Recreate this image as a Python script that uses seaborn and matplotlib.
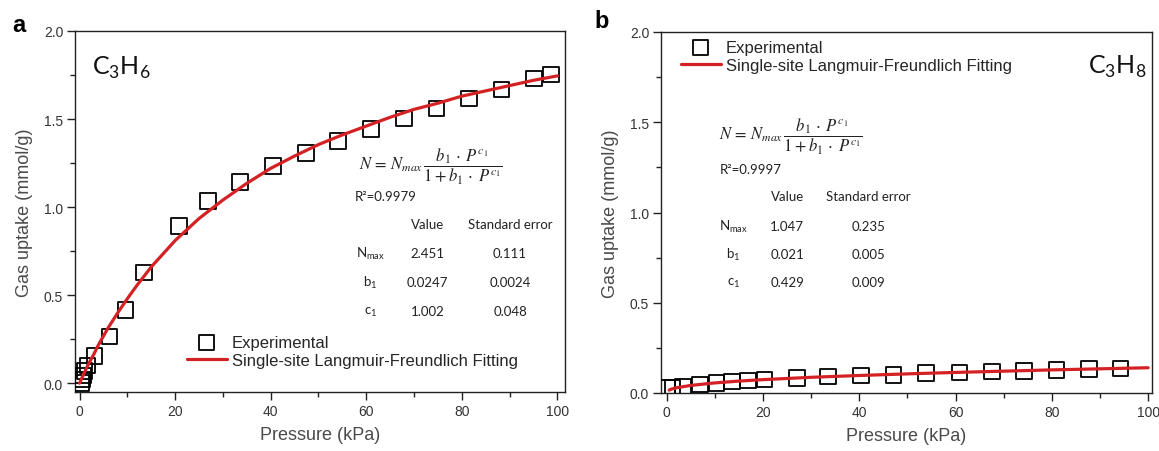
import matplotlib
matplotlib.use("Agg")
import matplotlib.pyplot as plt
import seaborn as sns
import numpy as np

# ---------------- data ----------------
# Panel a: C3H6
p_exp_a = [0.3, 0.5, 0.7, 1.0, 1.7, 3.1, 6.3, 9.6, 13.5, 20.8, 26.9, 33.6, 40.5,
           47.4, 54.1, 61.0, 67.9, 74.7, 81.5, 88.3, 95.1, 98.7]
n_exp_a = [0.0, 0.02, 0.045, 0.07, 0.10, 0.155, 0.265, 0.416, 0.628, 0.893, 1.035,
           1.143, 1.234, 1.306, 1.376, 1.442, 1.502, 1.559, 1.616, 1.669, 1.73, 1.754]
p_fit_a = [0, 1, 2, 3, 4, 6, 8, 10, 12, 15, 20, 25, 30, 35, 40, 45, 50, 55, 60,
           65, 70, 75, 80, 85, 90, 95, 100]
n_fit_a = [0.0, 0.06, 0.115, 0.165, 0.22, 0.315, 0.40, 0.48, 0.555, 0.66, 0.81,
           0.935, 1.04, 1.135, 1.22, 1.29, 1.355, 1.41, 1.46, 1.51, 1.555, 1.59,
           1.63, 1.66, 1.69, 1.72, 1.745]

# Panel b: C3H8
p_exp_b = [0.0, 1.2, 3.4, 6.9, 10.3, 13.6, 16.9, 20.3, 27.1, 33.5, 40.3, 47.1,
           53.9, 60.8, 67.6, 74.2, 81.0, 87.7, 94.3]
n_exp_b = [0.03, 0.03, 0.036, 0.046, 0.055, 0.064, 0.070, 0.074, 0.083, 0.092,
           0.097, 0.101, 0.111, 0.114, 0.12, 0.123, 0.127, 0.133, 0.136]
p_fit_b = [0.5, 1, 2, 5, 10, 15, 20, 30, 40, 50, 60, 70, 80, 90, 100]
n_fit_b = [0.016, 0.022, 0.029, 0.042, 0.056, 0.066, 0.074, 0.087, 0.097, 0.106,
           0.114, 0.121, 0.128, 0.134, 0.14]

# Fit parameter tables
params_a = {"R2": "0.9979", "values": ["2.451", "0.0247", "1.002"],
            "errors": ["0.111", "0.0024", "0.048"]}
params_b = {"R2": "0.9997", "values": ["1.047", "0.021", "0.429"],
            "errors": ["0.235", "0.005", "0.009"]}
param_names = [r"N$_\mathregular{max}$", r"b$_\mathregular{1}$", r"c$_\mathregular{1}$"]

x_ticks = [0, 20, 40, 60, 80, 100]
y_ticks = [0.0, 0.5, 1.0, 1.5, 2.0]

# ---------------- style ----------------
sns.set_style("ticks")
plt.rcParams["font.family"] = ["Liberation Sans", "DejaVu Sans"]
plt.rcParams["mathtext.default"] = "it"

RED = "#d42124"
TICK_COL = "#333333"
LAB_COL = "#4a4a4a"

W, H = 1159, 452
fig = plt.figure(figsize=(W / 100, H / 100), dpi=100)

ax_a = fig.add_axes([75 / W, 1 - 393 / H, 490 / W, 361 / H])
ax_b = fig.add_axes([661 / W, 1 - 394 / H, 491 / W, 361 / H])

eq = r"$N\, =\, N_{max}\,\dfrac{b_1\,\cdot\;P^{c_1}}{1 + b_1\,\cdot\;P^{c_1}}$"


def draw(ax, pe, ne, pf, nf, ylim, xlim):
    sns.scatterplot(x=pe, y=ne, ax=ax, marker="s", s=125, facecolor="none",
                    edgecolor="black", linewidth=1.3, label="Experimental", zorder=3)
    sns.lineplot(x=pf, y=nf, ax=ax, color=RED, linewidth=2.3,
                 label="Single-site Langmuir-Freundlich Fitting", zorder=4)
    ax.set_xlim(*xlim)
    ax.set_ylim(*ylim)
    ax.set_xticks(x_ticks)
    ax.set_xticks([10, 30, 50, 70, 90], minor=True)
    ax.set_yticks(y_ticks)
    ax.set_yticks([0.25, 0.75, 1.25, 1.75], minor=True)
    ax.set_yticklabels([f"{v:.1f}" for v in y_ticks])
    ax.tick_params(which="major", direction="out", length=5.5, width=1.0,
                   labelsize=10, labelcolor=TICK_COL, color="#222222", pad=3)
    ax.tick_params(which="minor", direction="out", length=3.5, width=1.0,
                   color="#222222")
    for sp in ax.spines.values():
        sp.set_visible(True)
        sp.set_linewidth(1.0)
        sp.set_color("#222222")
    ax.set_xlabel("Pressure (kPa)", fontsize=13, color=LAB_COL, labelpad=6)
    ax.set_ylabel("Gas uptake (mmol/g)", fontsize=13, color=LAB_COL, labelpad=8)


draw(ax_a, p_exp_a, n_exp_a, p_fit_a, n_fit_a, (-0.05, 2.0), (-0.95, 101.6))
draw(ax_b, p_exp_b, n_exp_b, p_fit_b, n_fit_b, (0.0, 2.0), (-1.2, 100.8))

legend_kw = dict(frameon=False, fontsize=12, handlelength=2.4, handletextpad=0.3,
                 labelspacing=0.2, borderpad=0, borderaxespad=0, loc="upper left")
ax_a.legend(bbox_to_anchor=(0.228, 0.158), **legend_kw)
ax_b.legend(bbox_to_anchor=(0.040, 0.978), **legend_kw)

TXT = ["Lato", "DejaVu Sans"]
TS = 9.5


def table(ax, r2, vals, errs, x_eq, y_eq, x_r2, y_r2, x_lab, x_val, x_err, ys):
    ax.text(x_eq, y_eq, eq, transform=ax.transAxes, fontsize=12,
            math_fontfamily="stix", ha="left", va="center", color="#222222")
    ax.text(x_r2, y_r2, "R²=" + r2, transform=ax.transAxes, fontsize=TS,
            family=TXT, ha="left", va="center", color="#222222")
    ax.text(x_val, ys[0], "Value", transform=ax.transAxes, fontsize=TS,
            family=TXT, ha="center", va="center", color="#222222")
    ax.text(x_err, ys[0], "Standard error", transform=ax.transAxes, fontsize=TS,
            family=TXT, ha="center", va="center", color="#222222")
    for name, v, e, y in zip(param_names, vals, errs, ys[1:]):
        ax.text(x_lab, y, name, transform=ax.transAxes, fontsize=TS, family=TXT,
                ha="center", va="center", color="#222222")
        ax.text(x_val, y, v, transform=ax.transAxes, fontsize=TS, family=TXT,
                ha="center", va="center", color="#222222")
        ax.text(x_err, y, e, transform=ax.transAxes, fontsize=TS, family=TXT,
                ha="center", va="center", color="#222222")


table(ax_a, params_a["R2"], params_a["values"], params_a["errors"],
      0.580, 0.626, 0.571, 0.543, 0.603, 0.720, 0.888,
      [0.465, 0.385, 0.305, 0.224])
table(ax_b, params_b["R2"], params_b["values"], params_b["errors"],
      0.118, 0.712, 0.120, 0.620, 0.147, 0.257, 0.422,
      [0.546, 0.463, 0.385, 0.307])

ax_a.text(0.035, 0.900, r"C$_\mathregular{3}$H$_\mathregular{6}$", transform=ax_a.transAxes,
          fontsize=18, family=TXT, ha="left", va="center", color="#111111")
ax_b.text(0.870, 0.906, r"C$_\mathregular{3}$H$_\mathregular{8}$", transform=ax_b.transAxes,
          fontsize=18, family=TXT, ha="left", va="center", color="#111111")

fig.text(12 / W, 1 - 25 / H, "a", fontsize=17, fontweight="bold", ha="left",
         va="center", color="black")
fig.text(594 / W, 1 - 22 / H, "b", fontsize=17, fontweight="bold", ha="left",
         va="center", color="black")

fig.savefig("out.png", dpi=100)
